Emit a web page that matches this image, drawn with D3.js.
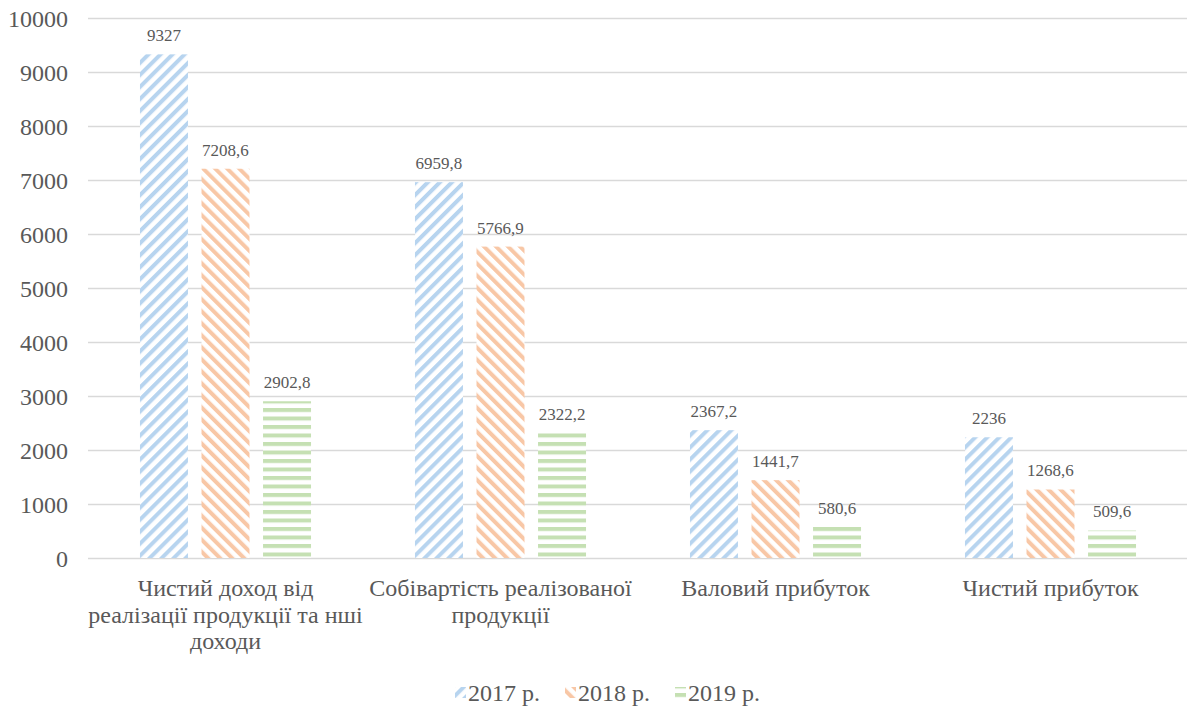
<!DOCTYPE html>
<html>
<head>
<meta charset="utf-8">
<script src="https://cdn.jsdelivr.net/npm/d3@7"></script>
<style>
  body { margin: 0; background: #fff; }
  text { font-family: "Liberation Serif", "Times New Roman", serif; fill: #595959; }
</style>
</head>
<body>
<script>
// chart data
var categories = [
  ["Чистий доход від", "реалізації продукції та нші", "доходи"],
  ["Собівартість реалізованої", "продукції"],
  ["Валовий прибуток"],
  ["Чистий прибуток"]
];
var years = ["2017 р.", "2018 р.", "2019 р."];
var values2017 = [9327, 6959.8, 2367.2, 2236];
var values2018 = [7208.6, 5766.9, 1441.7, 1268.6];
var values2019 = [2902.8, 2322.2, 580.6, 509.6];
var yTicks = [0, 1000, 2000, 3000, 4000, 5000, 6000, 7000, 8000, 9000, 10000];

var series = [values2017, values2018, values2019];
var colors = ["#b7d4ef", "#f8c7a6", "#c5e0b3"];
var angles = [45, -45, 90];

var width = 1187, height = 710;
var plotLeft = 88, plotRight = 1188, plotTop = 18, plotBottom = 558;

var svg = d3.select("body").append("svg")
    .attr("width", width)
    .attr("height", height);

// hatch patterns
var defs = svg.append("defs");
years.forEach(function(y, i) {
  var p = defs.append("pattern")
      .attr("id", "hatch" + i)
      .attr("patternUnits", "userSpaceOnUse")
      .attr("width", 8.5)
      .attr("height", 8.5)
      .attr("patternTransform", "rotate(" + angles[i] + ")");
  p.append("rect").attr("width", 8.5).attr("height", 8.5).attr("fill", "#fff");
  p.append("rect").attr("x", 0).attr("width", 4).attr("height", 8.5).attr("fill", colors[i]);
});

var x0 = d3.scaleBand()
    .domain(d3.range(categories.length))
    .range([plotLeft, plotRight])
    .paddingInner(0.378)
    .paddingOuter(0.189);

var x1 = d3.scaleBand()
    .domain(d3.range(years.length))
    .range([0, x0.bandwidth()])
    .paddingInner(0.22);

var y = d3.scaleLinear().domain([0, 10000]).range([plotBottom, plotTop]);

// grid + tick labels
var yAxis = d3.axisLeft(y).tickValues(yTicks).tickSize(-(plotRight - plotLeft)).tickFormat(d3.format("d"));
var gy = svg.append("g")
    .attr("transform", "translate(" + plotLeft + ",0)")
    .call(yAxis);
gy.select(".domain").remove();
gy.selectAll(".tick line").attr("stroke", "#d9d9d9").attr("stroke-width", 1.5);
gy.selectAll(".tick text")
    .attr("x", -20)
    .attr("dy", "0.34em")
    .style("font-size", "24px")
    .style("font-family", "Liberation Serif, serif")
    .attr("fill", "#595959");

// bars
var groups = svg.selectAll("g.cat")
    .data(categories)
    .enter().append("g")
    .attr("class", "cat")
    .attr("transform", function(d, i) { return "translate(" + x0(i) + ",0)"; });

groups.selectAll("rect")
    .data(function(d, i) { return series.map(function(s, k) { return {k: k, v: s[i]}; }); })
    .enter().append("rect")
    .attr("x", function(d) { return x1(d.k); })
    .attr("y", function(d) { return y(d.v); })
    .attr("width", x1.bandwidth())
    .attr("height", function(d) { return plotBottom - y(d.v); })
    .attr("fill", function(d) { return "url(#hatch" + d.k + ")"; });

groups.selectAll("text.val")
    .data(function(d, i) { return series.map(function(s, k) { return {k: k, v: s[i]}; }); })
    .enter().append("text")
    .attr("class", "val")
    .attr("x", function(d) { return x1(d.k) + x1.bandwidth() / 2; })
    .attr("y", function(d) { return y(d.v) - 13; })
    .attr("text-anchor", "middle")
    .style("font-size", "17px")
    .text(function(d) { return String(d.v).replace(".", ","); });

// category labels
groups.append("text")
    .attr("text-anchor", "middle")
    .style("font-size", "24px")
    .selectAll("tspan")
    .data(function(d) { return d; })
    .enter().append("tspan")
    .attr("x", x0.bandwidth() / 2)
    .attr("y", function(d, j) { return 596 + j * 26.5; })
    .text(function(d) { return d; });

// legend
var legendX = [455, 565, 675];
var legend = svg.selectAll("g.leg")
    .data(years)
    .enter().append("g")
    .attr("class", "leg")
    .attr("transform", function(d, i) { return "translate(" + legendX[i] + ",693)"; });
legend.append("rect")
    .attr("x", 0).attr("y", -6)
    .attr("width", 11).attr("height", 11)
    .attr("fill", function(d, i) { return "url(#hatch" + i + ")"; });
legend.append("text")
    .attr("x", 13)
    .attr("dy", "0.35em")
    .style("font-size", "24px")
    .text(function(d) { return d; });
</script>
</body>
</html>
